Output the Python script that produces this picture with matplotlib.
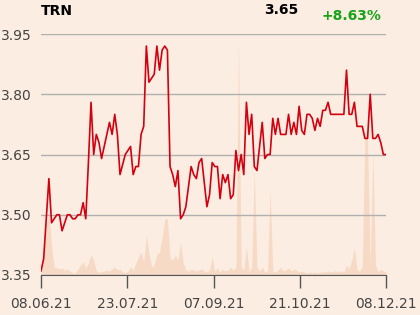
import numpy as np
import matplotlib
matplotlib.use("Agg")
import matplotlib.pyplot as plt

TICKER = "TRN"

# daily closing prices, 08.06.21 .. 08.12.21
close = [
    3.36, 3.39, 3.49, 3.59, 3.48, 3.49, 3.50, 3.50, 3.46, 3.48,
    3.50, 3.50, 3.49, 3.49, 3.50, 3.50, 3.53, 3.49, 3.63, 3.78,
    3.65, 3.70, 3.68, 3.64, 3.67, 3.70, 3.73, 3.70, 3.75, 3.70,
    3.60, 3.625, 3.65, 3.66, 3.67, 3.60, 3.62, 3.62, 3.70, 3.72,
    3.92, 3.83, 3.84, 3.85, 3.92, 3.86, 3.91, 3.92, 3.91, 3.62,
    3.60, 3.57, 3.61, 3.49, 3.50, 3.52, 3.57, 3.62, 3.60, 3.59,
    3.63, 3.64, 3.58, 3.52, 3.55, 3.63, 3.62, 3.62, 3.54, 3.60,
    3.58, 3.60, 3.54, 3.55, 3.66, 3.61, 3.65, 3.60, 3.78, 3.70,
    3.75, 3.62, 3.61, 3.67, 3.73, 3.64, 3.65, 3.65, 3.74, 3.70,
    3.74, 3.70, 3.70, 3.70, 3.75, 3.70, 3.73, 3.70, 3.77, 3.71,
    3.70, 3.75, 3.75, 3.74, 3.71, 3.74, 3.72, 3.76, 3.76, 3.78,
    3.75, 3.75, 3.75, 3.75, 3.75, 3.75, 3.86, 3.75, 3.75, 3.78,
    3.72, 3.72, 3.72, 3.69, 3.69, 3.80, 3.69, 3.69, 3.70, 3.68,
    3.65, 3.65,
]

# traded volume (thousand shares)
volume = [
    5, 22, 50, 60, 30, 8, 7, 6, 7, 5,
    6, 4, 2, 2, 6, 10, 13, 7, 12, 20,
    15, 4, 3, 3, 4, 5, 4, 6, 8, 5,
    6, 3, 2, 4, 8, 5, 12, 18, 23, 13,
    39, 22, 8, 10, 21, 23, 38, 56, 56, 17,
    15, 20, 15, 33, 12, 5, 4, 6, 5, 4,
    5, 6, 4, 3, 5, 18, 4, 7, 3, 6,
    4, 5, 8, 5, 8, 234, 8, 5, 28, 3,
    8, 105, 8, 4, 8, 3, 4, 85, 3, 3,
    5, 8, 4, 5, 7, 4, 6, 5, 3, 4,
    3, 2, 3, 2, 3, 2, 3, 3, 3, 4,
    3, 4, 4, 3, 4, 3, 10, 6, 15, 27,
    5, 4, 8, 145, 135, 10, 120, 10, 3, 6,
    4, 3,
]

date_labels = ["08.06.21", "23.07.21", "07.09.21", "21.10.21", "08.12.21"]
y_ticks = [3.35, 3.50, 3.65, 3.80, 3.95]

BG = "#FBEDE1"
x = np.arange(len(close))

fig = plt.figure(figsize=(4.2, 3.15), dpi=100, facecolor=BG)
ax = fig.add_axes([41 / 420, 1 - 275 / 315, 345 / 420, 241 / 315])
ax2 = ax.twinx()
ax.set_zorder(ax2.zorder + 1)
ax.patch.set_visible(False)
ax2.set_facecolor(BG)

# volume as a soft area in the background
ax2.fill_between(x, 0, volume, color="#F6D7C0", alpha=0.85, lw=0)
ax2.set_ylim(0, max(volume) * 241 / 234)
ax2.set_yticks([])
for s in ax2.spines.values():
    s.set_visible(False)

ax.plot(x, close, color="#D40010", lw=1.2)
ax.set_xlim(0, len(close) - 1)
ax.set_ylim(3.35, 3.95)
ax.set_yticks(y_ticks)
ax.set_yticklabels([f"{v:.2f}" for v in y_ticks])
ax.set_xticks(np.linspace(0, len(close) - 1, len(date_labels)))
ax.set_xticklabels(date_labels)
ax.grid(axis="y", color="#B0B0B0", lw=1)
ax.tick_params(axis="y", length=0, pad=7, labelsize=10, labelcolor="#444444")
ax.tick_params(axis="x", length=9.5, width=1, color="#555555", pad=6,
               labelsize=10, labelcolor="#444444")
for side in ["top", "right", "left"]:
    ax.spines[side].set_visible(False)
ax.spines["bottom"].set_color("#555555")

pct = (close[-1] / close[0] - 1) * 100
fig.text(41 / 420, 1 - 11 / 315, TICKER, fontsize=10, fontweight="bold",
         va="center", ha="left")
fig.text(281 / 420, 1 - 10 / 315, f"{close[-1]:.2f}", fontsize=10,
         fontweight="bold", va="center", ha="center")
fig.text(381 / 420, 1 - 16 / 315, f"{pct:+.2f}%", fontsize=10,
         fontweight="bold", color="#17A317", va="center", ha="right")

fig.savefig("out.png", dpi=100, facecolor=BG)
